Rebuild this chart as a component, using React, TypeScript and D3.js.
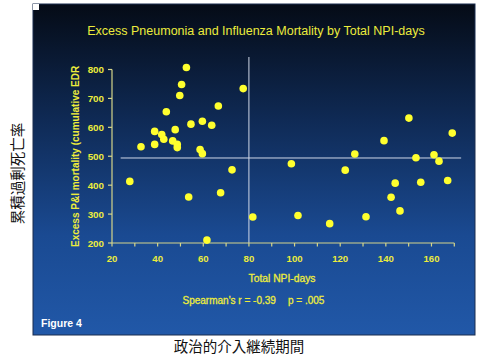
import React from "react";
import * as d3 from "d3";

const title = "Excess Pneumonia and Influenza Mortality by Total NPI-days";
const yLabel = "Excess P&I mortality (cumulative EDR";
const xLabel = "Total NPI-days";
const statR = "Spearman's r = -0.39";
const statP = "p = .005";
const figLabel = "Figure 4";
const jpYLabel = "累積過剰死亡率";
const jpXLabel = "政治的介入継続期間";

const xTicksMajor = [20, 40, 60, 80, 100, 120, 140, 160];
const xTicksMinor = [20, 30, 40, 50, 60, 70, 80, 90, 100, 110, 120, 130, 140, 150, 160, 170];
const yTicks = [200, 300, 400, 500, 600, 700, 800];

const npiDays = [
  52.6, 50.5, 49.7, 77.5, 66.6, 43.8, 54.6, 59.6, 63.7, 38.7, 41.8, 47.7, 42.7,
  46.6, 38.7, 48.6, 48.6, 32.7, 58.6, 59.6, 72.6, 27.8, 67.6, 53.6, 81.7, 61.6,
  150.1, 169.1, 139.2, 126.4, 161.1, 153.2, 163.3, 98.6, 122.2, 167.1, 144.1,
  155.3, 142.3, 146.2, 101.5, 131.3, 115.4,
];
const mortality = [
  807, 748, 710, 734, 674, 654, 611, 621, 607, 586, 575, 592, 559,
  553, 541, 541, 530, 533, 523, 509, 453, 413, 374, 359, 290, 210,
  632, 580, 554, 508, 505, 495, 483, 474, 452, 416, 407,
  410, 358, 311, 295, 291, 267,
];

const medianX = 80;
const medianY = 494;

export default function App() {
  const x = d3.scaleLinear().domain([20, 170]).range([112, 454.3]);
  const y = d3.scaleLinear().domain([200, 800]).range([243, 69.5]);
  const yellow = "#ecec3c";
  const axisColor = "#d6d68a";
  const sans = "'Liberation Sans', Arial, sans-serif";
  const cjk = "'Noto Sans CJK JP', sans-serif";

  return (
    <svg width={478} height={357} style={{ position: "absolute", left: 0, top: 0 }}>
      <defs>
        <linearGradient id="bg" x1="0" y1="0" x2="0" y2="1">
          <stop offset="0%" stopColor="#050b16" />
          <stop offset="35%" stopColor="#0f2a55" />
          <stop offset="70%" stopColor="#1a4a92" />
          <stop offset="100%" stopColor="#2158a8" />
        </linearGradient>
      </defs>
      <rect x={0} y={0} width={478} height={357} fill="#ffffff" />
      <rect x={33} y={4} width={442} height={331} fill="url(#bg)" stroke="#1b2c4e" strokeWidth={1} />
      <rect x={33} y={4} width={6} height={6} fill="#ffffff" />

      <text x={256} y={35} textAnchor="middle" fill={yellow} fontFamily={sans} fontSize={12.5}>
        {title}
      </text>

      {/* crosshair lines */}
      <line x1={x(medianX)} x2={x(medianX)} y1={57} y2={y(200)} stroke="#d0d8e8" strokeWidth={1} />
      <line x1={x(23.8)} x2={x(173)} y1={y(medianY)} y2={y(medianY)} stroke="#d0d8e8" strokeWidth={1} />

      {/* y axis */}
      <line x1={x(20)} x2={x(20)} y1={y(800)} y2={y(200)} stroke={axisColor} strokeWidth={1.2} />
      {yTicks.map((t) => (
        <g key={"y" + t}>
          <line x1={x(20) - 4} x2={x(20)} y1={y(t)} y2={y(t)} stroke={axisColor} strokeWidth={1.2} />
          <text x={104} y={y(t) + 3.6} textAnchor="end" fill={yellow} fontFamily={sans} fontSize={9.8} fontWeight="bold">
            {t}
          </text>
        </g>
      ))}

      {/* x axis */}
      <line x1={x(20)} x2={x(170)} y1={y(200)} y2={y(200)} stroke={axisColor} strokeWidth={1.2} />
      {xTicksMinor.map((t) => (
        <line key={"xm" + t} x1={x(t)} x2={x(t)} y1={y(200)} y2={y(200) + 3.5} stroke={axisColor} strokeWidth={1.2} />
      ))}
      {xTicksMajor.map((t) => (
        <text key={"xt" + t} x={x(t)} y={262} textAnchor="middle" fill={yellow} fontFamily={sans} fontSize={9.6} fontWeight="bold">
          {t}
        </text>
      ))}

      <text
        transform={`translate(78.5, 247) rotate(-90)`}
        textAnchor="start"
        fill={yellow}
        fontFamily={sans}
        fontSize={10}
        fontWeight="bold"
      >
        {yLabel}
      </text>

      <text x={282} y={281.5} textAnchor="middle" fill={yellow} stroke={yellow} strokeWidth={0.3} fontFamily={sans} fontSize={10.3}>
        {xLabel}
      </text>
      <text x={182.5} y={303.5} textAnchor="start" fill={yellow} stroke={yellow} strokeWidth={0.3} fontFamily={sans} fontSize={10}>
        {statR}
      </text>
      <text x={288} y={303.5} textAnchor="start" fill={yellow} stroke={yellow} strokeWidth={0.3} fontFamily={sans} fontSize={10}>
        {statP}
      </text>
      <text x={41} y={327} fill="#ffffff" fontFamily={sans} fontSize={10.5} fontWeight="bold">
        {figLabel}
      </text>

      {npiDays.map((d, i) => (
        <circle key={"p" + i} cx={x(d)} cy={y(mortality[i])} r={3.8} fill="#ffff2e" />
      ))}

      <text
        transform={`translate(22.5, 173.5) rotate(-90)`}
        textAnchor="middle"
        fill="#111"
        fontFamily={cjk}
        fontSize={14.5}
      >
        {jpYLabel}
      </text>
      <text x={239} y={352} textAnchor="middle" fill="#111" fontFamily={cjk} fontSize={14.5}>
        {jpXLabel}
      </text>
    </svg>
  );
}
